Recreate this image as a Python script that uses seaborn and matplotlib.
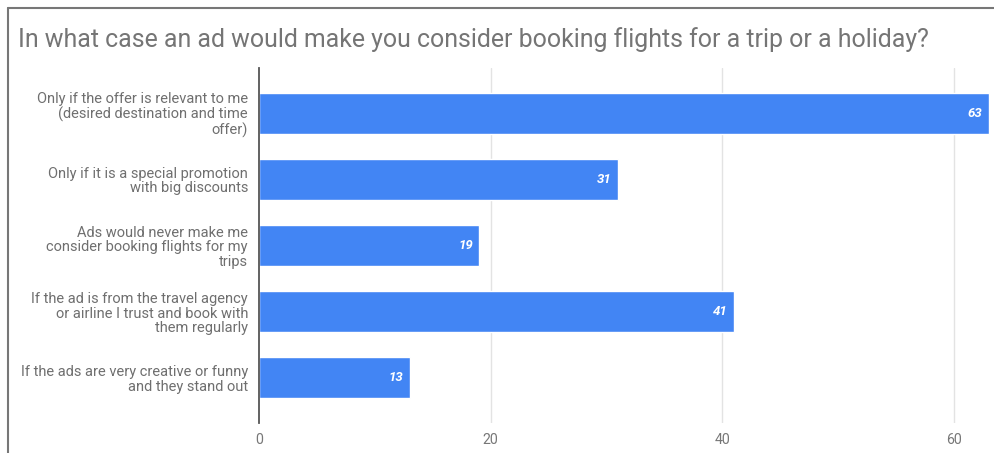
import matplotlib
matplotlib.use("Agg")
import matplotlib.pyplot as plt
from matplotlib.lines import Line2D
import seaborn as sns
import pandas as pd

title = "In what case an ad would make you consider booking flights for a trip or a holiday?"
categories = [
    "Only if the offer is relevant to me\n(desired destination and time\noffer)",
    "Only if it is a special promotion\nwith big discounts",
    "Ads would never make me\nconsider booking flights for my\ntrips",
    "If the ad is from the travel agency\nor airline I trust and book with\nthem regularly",
    "If the ads are very creative or funny\nand they stand out",
]
counts = [63, 31, 19, 41, 13]
xticks = [0, 20, 40, 60]

sns.set_theme(style="white")
plt.rcParams["font.family"] = ["Roboto", "DejaVu Sans"]

df = pd.DataFrame({"answer": categories, "count": counts})

fig = plt.figure(figsize=(9.94, 4.53), dpi=100)
ax = fig.add_axes([259 / 994, 1 - 423 / 453, (994 - 259) / 994, (423 - 68) / 453])

sns.barplot(data=df, x="count", y="answer", orient="h", color="#4285F4",
            saturation=1, width=0.62, ax=ax)

ax.set_xlim(0, (994 - 259) / 11.58)
ax.set_ylim(len(categories) - 1 + 0.68, -0.68)
ax.set_xticks(xticks)
ax.set_xlabel("")
ax.set_ylabel("")

for x in xticks[1:]:
    ax.axvline(x, color="#e3e3e3", lw=1.0, zorder=0)

for s in ["top", "right", "bottom"]:
    ax.spines[s].set_visible(False)
ax.spines["left"].set_color("#555555")
ax.spines["left"].set_linewidth(1.3)

ax.tick_params(axis="both", length=0, colors="#777777", labelsize=10.2)
ax.tick_params(axis="x", pad=7)
ax.tick_params(axis="y", pad=8, labelsize=10.5)
for lbl in ax.get_yticklabels():
    lbl.set_linespacing(1.05)
    lbl.set_color("#6f6f6f")

for i, v in enumerate(counts):
    ax.annotate(str(v), xy=(v, i), xytext=(-6, 0), textcoords="offset pixels",
                ha="right", va="center", color="white", fontsize=9.5,
                fontstyle="italic", fontweight="bold")

fig.text(18 / 994, 1 - 40 / 453, title, fontsize=17.9, color="#757575",
         ha="left", va="center")

# outer frame
fig.add_artist(Line2D([8 / 994, 8 / 994], [0, 1 - 8 / 453], transform=fig.transFigure,
                      color="#777777", lw=1.5))
fig.add_artist(Line2D([8 / 994, 1], [1 - 8 / 453, 1 - 8 / 453], transform=fig.transFigure,
                      color="#777777", lw=1.5))

fig.savefig("out.png", dpi=100)
